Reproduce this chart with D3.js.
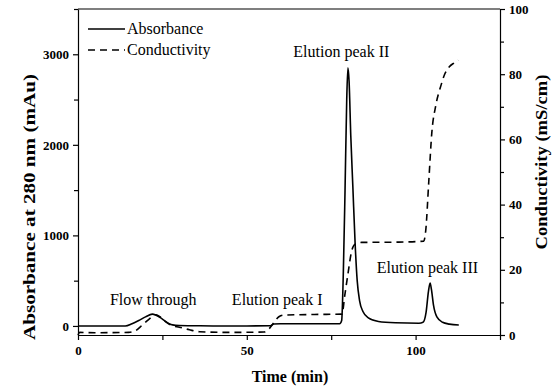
<!DOCTYPE html>
<html>
<head>
<meta charset="utf-8">
<script src="https://cdn.jsdelivr.net/npm/d3@7"></script>
<style>
  html, body { margin: 0; padding: 0; background: #fff; }
  svg { display: block; }
  svg text { font-family: "Liberation Serif", "DejaVu Serif", "Times New Roman", serif; }
</style>
</head>
<body>
<svg id="chart" width="560" height="388"></svg>
<script>
// Elution profile: time (min) vs. UV absorbance (mAu) and conductivity (mS/cm)
const absorbanceTime = [0, 5, 10, 14, 16, 18, 20, 22, 23, 25, 27, 28, 30, 35, 40, 50, 57, 58, 60, 70, 77.5,
  78.1, 78.6, 79.1, 79.6, 79.95, 80.3, 80.8, 81.4, 82.1, 82.7, 83.4, 84.4, 86, 89, 94, 101,
  102.2, 103.1, 103.8, 104.3, 104.7, 105.3, 106.3, 108, 110, 112.8];
const absorbanceValue = [0, 0, 0, 0, 25, 60, 100, 130, 122, 75, 25, 12, 5, 2, 0, 0, 2, 22, 24, 25, 25,
  60, 600, 1500, 2500, 2850, 2700, 2100, 1550, 900, 500, 280, 160, 90, 50, 35, 30,
  40, 150, 380, 475, 400, 230, 100, 40, 20, 10];

const conductivityTime = [0, 0.5, 5, 15, 17, 19, 21, 23, 24, 26, 28, 30, 33, 36, 45, 55, 56.5, 58, 59.5, 61, 70,
  78.2, 79, 80, 81, 82, 84, 95, 102.4, 103, 103.9, 104.8, 106, 107.5, 108.7, 110, 111.5, 112.6];
const conductivityValue = [0, 0.8, 0.7, 0.8, 1.3, 3, 4.8, 6.2, 5.8, 4, 2.8, 2.4, 1.6, 1, 0.8, 0.9, 1.8, 3.8, 5.6, 6.1, 6.3,
  6.4, 12, 19, 25.5, 27.8, 28.4, 28.5, 28.8, 32, 47, 62, 70.5, 76.5, 80.2, 82.3, 83.5, 84.3];

const timeTicks = [0, 50, 100];
const timeMinorTicks = [25, 75, 125];
const absorbanceTicks = [0, 1000, 2000, 3000];
const absorbanceMinorTicks = [500, 1500, 2500, 3500];
const conductivityTicks = [0, 20, 40, 60, 80, 100];
const conductivityMinorTicks = [10, 30, 50, 70, 90];

const annotations = [
  { text: "Flow through", t: 22.3, v: 230 },
  { text: "Elution peak I", t: 59.0, v: 230 },
  { text: "Elution peak II", t: 78.0, v: 2970 },
  { text: "Elution peak III", t: 103.5, v: 590 }
];

const legendItems = [
  { label: "Absorbance", dash: null },
  { label: "Conductivity", dash: "7,5" }
];

const svg = d3.select("#chart");
const plotLeft = 78, plotRight = 500, plotTop = 9, plotBottom = 335;
const serif = "'Liberation Serif', 'DejaVu Serif', 'Times New Roman', serif";

const x = d3.scaleLinear().domain([0, 125]).range([plotLeft, plotRight]);
const yA = d3.scaleLinear().domain([-100, 3500]).range([plotBottom, plotTop]);
const yC = d3.scaleLinear().domain([0, 100]).range([plotBottom, plotTop]);

function styleAxis(g) {
  g.attr("font-family", serif).attr("font-size", 13).attr("font-weight", "bold");
  g.selectAll("path.domain").attr("stroke", "#000").attr("stroke-width", 1.2);
  g.selectAll(".tick line").attr("stroke", "#000").attr("stroke-width", 1.2);
  g.selectAll(".tick text").attr("fill", "#000");
}

// Bottom axis
svg.append("g").attr("transform", `translate(0,${plotBottom})`)
  .call(d3.axisBottom(x).tickValues(timeMinorTicks).tickSize(5).tickSizeOuter(0).tickFormat(""))
  .call(g => g.select("path.domain").remove())
  .call(styleAxis);
svg.append("g").attr("transform", `translate(0,${plotBottom})`)
  .call(d3.axisBottom(x).tickValues(timeTicks).tickSize(5).tickSizeOuter(0).tickPadding(6).tickFormat(d3.format("d")))
  .call(styleAxis);

// Left axis (absorbance)
svg.append("g").attr("transform", `translate(${plotLeft},0)`)
  .call(d3.axisLeft(yA).tickValues(absorbanceMinorTicks).tickSize(4).tickFormat(""))
  .call(g => g.select("path.domain").remove())
  .call(styleAxis);
svg.append("g").attr("transform", `translate(${plotLeft},0)`)
  .call(d3.axisLeft(yA).tickValues(absorbanceTicks).tickSize(5).tickSizeOuter(0).tickPadding(4).tickFormat(d3.format("d")))
  .call(styleAxis);

// Right axis (conductivity)
svg.append("g").attr("transform", `translate(${plotRight},0)`)
  .call(d3.axisRight(yC).tickValues(conductivityMinorTicks).tickSize(4).tickFormat(""))
  .call(g => g.select("path.domain").remove())
  .call(styleAxis);
svg.append("g").attr("transform", `translate(${plotRight},0)`)
  .call(d3.axisRight(yC).tickValues(conductivityTicks).tickSize(5).tickSizeOuter(0).tickPadding(4).tickFormat(d3.format("d")))
  .call(styleAxis);

// Top frame line
svg.append("line")
  .attr("x1", plotLeft).attr("x2", plotRight).attr("y1", plotTop).attr("y2", plotTop)
  .attr("stroke", "#000").attr("stroke-width", 1.2);

// Axis titles
function title(sel) {
  return sel.attr("text-anchor", "middle")
    .attr("font-family", serif).attr("font-size", 16).attr("font-weight", "bold");
}
svg.append("text")
  .attr("transform", "translate(35,207) rotate(-90)")
  .call(title)
  .attr("textLength", 266).attr("lengthAdjust", "spacingAndGlyphs")
  .text("Absorbance at 280 nm (mAu)");

svg.append("text")
  .attr("transform", "translate(547,162) rotate(-90)")
  .call(title)
  .attr("textLength", 175).attr("lengthAdjust", "spacingAndGlyphs")
  .text("Conductivity (mS/cm)");

svg.append("text")
  .attr("x", 290).attr("y", 382)
  .call(title)
  .text("Time (min)");

// Traces
const absorbanceLine = d3.line()
  .x(i => x(absorbanceTime[i]))
  .y(i => yA(absorbanceValue[i]))
  .curve(d3.curveMonotoneX);

const conductivityLine = d3.line()
  .x(i => x(conductivityTime[i]))
  .y(i => yC(conductivityValue[i]))
  .curve(d3.curveMonotoneX);

svg.append("path")
  .attr("d", conductivityLine(d3.range(conductivityTime.length)))
  .attr("fill", "none").attr("stroke", "#000")
  .attr("stroke-width", 1.6).attr("stroke-dasharray", "7,5");

svg.append("path")
  .attr("d", absorbanceLine(d3.range(absorbanceTime.length)))
  .attr("fill", "none").attr("stroke", "#000")
  .attr("stroke-width", 1.6).attr("stroke-linejoin", "round");

// Peak labels
svg.append("g")
  .attr("font-family", serif).attr("font-size", 16)
  .selectAll("text")
  .data(annotations)
  .join("text")
  .attr("x", d => x(d.t))
  .attr("y", d => yA(d.v))
  .attr("text-anchor", "middle")
  .text(d => d.text);

// Legend
const legend = svg.append("g").attr("transform", "translate(88,29)")
  .attr("font-family", serif).attr("font-size", 16);
const rows = legend.selectAll("g").data(legendItems).join("g")
  .attr("transform", (d, i) => `translate(0,${i * 21})`);
rows.append("line")
  .attr("x1", 0).attr("x2", 37).attr("y1", 0).attr("y2", 0)
  .attr("stroke", "#000").attr("stroke-width", 1.6)
  .attr("stroke-dasharray", d => d.dash);
rows.append("text")
  .attr("x", 39).attr("y", 5)
  .text(d => d.label);
</script>
</body>
</html>
